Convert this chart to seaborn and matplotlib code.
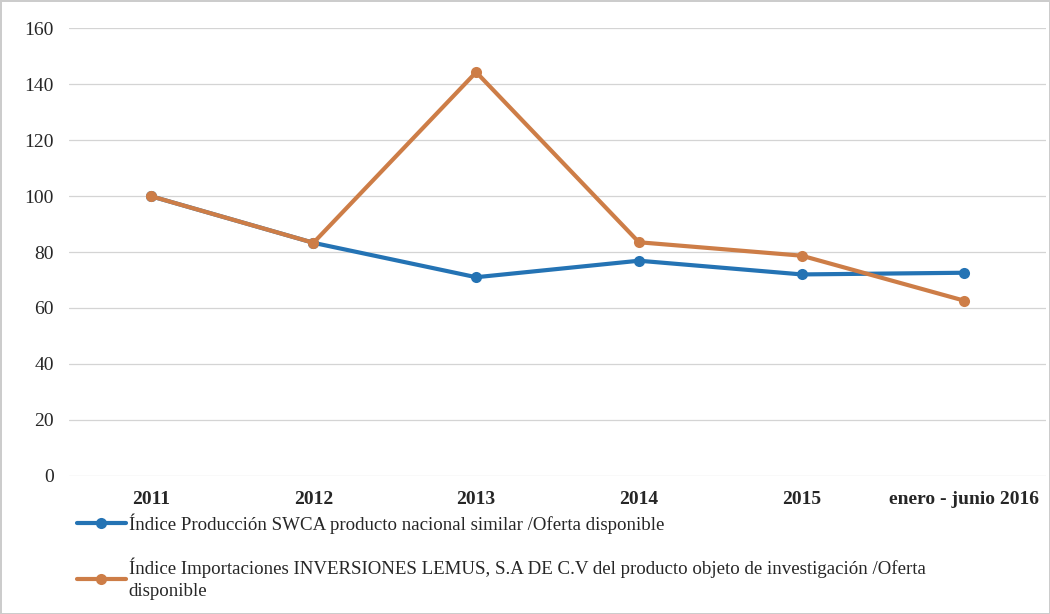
import seaborn as sns
import pandas as pd
import matplotlib.pyplot as plt


sns.set_theme(style="white")
plt.rcParams["font.family"] = ["Liberation Serif", "DejaVu Serif"]

periods = ["2011", "2012", "2013", "2014", "2015", "enero - junio 2016"]
produccion = [100, 83.3, 71.0, 76.9, 72.0, 72.6]
importaciones = [100, 83.3, 144.3, 83.5, 78.7, 62.6]

label_prod = "Índice Producción SWCA producto nacional similar /Oferta disponible"
label_imp = ("Índice Importaciones INVERSIONES LEMUS, S.A DE C.V del producto objeto de investigación /Oferta\n"
             "disponible")

y_ticks = [0, 20, 40, 60, 80, 100, 120, 140, 160]


def get_data():
    df_prod = pd.DataFrame({"period": periods, "value": produccion, "serie": label_prod})
    df_imp = pd.DataFrame({"period": periods, "value": importaciones, "serie": label_imp})
    return pd.concat([df_prod, df_imp], ignore_index=True)


def plot_index(data):
    fig = plt.figure(figsize=(10.5, 6.14), dpi=100)
    ax = fig.add_axes([0.066, 0.225, 0.93, 0.729])

    ax = sns.lineplot(
        data=data,
        x="period",
        y="value",
        hue="serie",
        palette=["#2473b4", "#cd7d47"],
        marker="o",
        markersize=8,
        markeredgewidth=0,
        linewidth=3,
        sort=False,
        ax=ax,
    )

    ax.set_ylim(0, 160)
    ax.set_xlim(-0.5, len(periods) - 0.5)
    ax.set_yticks(y_ticks)
    ax.grid(axis="y", color="#d4d4d4", linewidth=0.9)
    ax.set_axisbelow(True)
    for s in ax.spines.values():
        s.set_visible(False)
    ax.tick_params(axis="both", length=0)
    ax.tick_params(axis="y", labelsize=14, pad=11)
    ax.tick_params(axis="x", labelsize=14, pad=11)
    for t in ax.get_xticklabels():
        t.set_fontweight("bold")
    ax.set_xlabel("")
    ax.set_ylabel("")

    handles, labels = ax.get_legend_handles_labels()
    leg = ax.legend(
        handles,
        labels,
        loc="upper left",
        bbox_to_anchor=(0.066, 0.176),
        bbox_transform=fig.transFigure,
        frameon=False,
        fontsize=13.6,
        handlelength=2.6,
        handletextpad=0.15,
        labelspacing=1.25,
        borderaxespad=0,
    )
    for t in leg.get_texts():
        t.set_linespacing(1.4)

    fig.patch.set_edgecolor("#cccccc")
    fig.patch.set_linewidth(2)
    fig.savefig("out.png", dpi=100, edgecolor=fig.get_edgecolor())


def main():
    data = get_data()
    plot_index(data)


if __name__ == "__main__":
    main()
